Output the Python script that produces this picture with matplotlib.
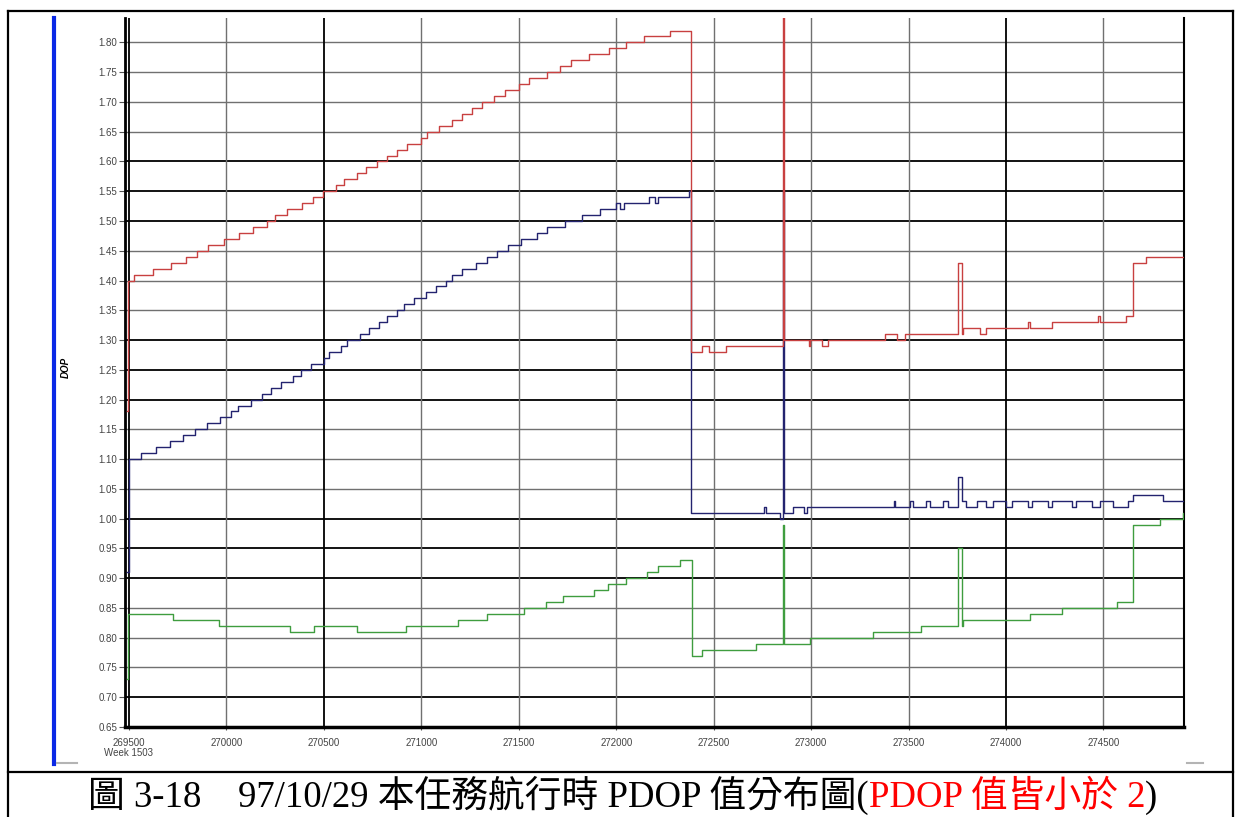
import matplotlib

matplotlib.use("Agg")
import matplotlib.pyplot as plt  # noqa: E402
from matplotlib.lines import Line2D  # noqa: E402
from matplotlib.offsetbox import AnchoredOffsetbox, HPacker, TextArea  # noqa: E402

# step change points: GPS time of week (s) -> DOP value (held until next point)
pdop_t = [269488, 269497, 269526, 269622, 269715, 269792, 269849, 269907, 269989,
          270065, 270139, 270211, 270248, 270313, 270390, 270445, 270496, 270561,
          270601, 270669, 270718, 270775, 270826, 270877, 270929, 270997, 271031,
          271091, 271159, 271210, 271258, 271309, 271372, 271432, 271500, 271555,
          271646, 271714, 271766, 271859, 271962, 272051, 272141, 272275, 272386,
          272441, 272474, 272565, 272856, 272862, 272990, 272995, 273056, 273089,
          273380, 273440, 273483, 273751, 273776, 273780, 273867, 273898, 274112,
          274125, 274235, 274473, 274482, 274615, 274653, 274718, 274913]
pdop_v = [1.18, 1.40, 1.41, 1.42, 1.43, 1.44, 1.45, 1.46, 1.47,
          1.48, 1.49, 1.50, 1.51, 1.52, 1.53, 1.54, 1.55, 1.56,
          1.57, 1.58, 1.59, 1.60, 1.61, 1.62, 1.63, 1.64, 1.65,
          1.66, 1.67, 1.68, 1.69, 1.70, 1.71, 1.72, 1.73, 1.74,
          1.75, 1.76, 1.77, 1.78, 1.79, 1.80, 1.81, 1.82, 1.28,
          1.29, 1.28, 1.29, 1.95, 1.30, 1.29, 1.30, 1.29, 1.30,
          1.31, 1.30, 1.31, 1.43, 1.31, 1.32, 1.31, 1.32, 1.33,
          1.32, 1.33, 1.34, 1.33, 1.34, 1.43, 1.44, 1.44]

hdop_t = [269488, 269500, 269562, 269638, 269710, 269780, 269840, 269903, 269968,
          270026, 270060, 270125, 270185, 270231, 270279, 270342, 270382, 270433,
          270501, 270527, 270587, 270621, 270686, 270732, 270783, 270826, 270877,
          270911, 270962, 271022, 271074, 271125, 271159, 271210, 271279, 271335,
          271390, 271446, 271513, 271595, 271646, 271735, 271826, 271916, 272001,
          272018, 272039, 272167, 272201, 272213, 272372, 272386, 272756, 272770,
          272838, 272856, 272862, 272907, 272961, 272979, 273426, 273431, 273505,
          273522, 273590, 273611, 273679, 273702, 273751, 273776, 273795, 273850,
          273898, 273935, 274000, 274031, 274113, 274134, 274216, 274236, 274337,
          274359, 274440, 274482, 274549, 274627, 274651, 274807, 274913]
hdop_v = [0.91, 1.10, 1.11, 1.12, 1.13, 1.14, 1.15, 1.16, 1.17,
          1.18, 1.19, 1.20, 1.21, 1.22, 1.23, 1.24, 1.25, 1.26,
          1.27, 1.28, 1.29, 1.30, 1.31, 1.32, 1.33, 1.34, 1.35,
          1.36, 1.37, 1.38, 1.39, 1.40, 1.41, 1.42, 1.43, 1.44,
          1.45, 1.46, 1.47, 1.48, 1.49, 1.50, 1.51, 1.52, 1.53,
          1.52, 1.53, 1.54, 1.53, 1.54, 1.55, 1.01, 1.02, 1.01,
          1.00, 1.55, 1.01, 1.02, 1.01, 1.02, 1.03, 1.02, 1.03,
          1.02, 1.03, 1.02, 1.03, 1.02, 1.07, 1.03, 1.02, 1.03,
          1.02, 1.03, 1.02, 1.03, 1.02, 1.03, 1.02, 1.03, 1.02,
          1.03, 1.02, 1.03, 1.02, 1.03, 1.04, 1.03, 1.03]

vdop_t = [269488, 269497, 269724, 269963, 270328, 270450, 270669, 270920, 271189,
          271338, 271528, 271642, 271729, 271888, 271960, 272048, 272156, 272215,
          272329, 272388, 272441, 272719, 272856, 272862, 272992, 273320, 273563,
          273751, 273776, 273781, 274123, 274286, 274571, 274653, 274790, 274906,
          274913]
vdop_v = [0.73, 0.84, 0.83, 0.82, 0.81, 0.82, 0.81, 0.82, 0.83,
          0.84, 0.85, 0.86, 0.87, 0.88, 0.89, 0.90, 0.91, 0.92,
          0.93, 0.77, 0.78, 0.79, 0.99, 0.79, 0.80, 0.81, 0.82,
          0.95, 0.82, 0.83, 0.84, 0.85, 0.86, 0.99, 1.00, 1.01,
          1.01]

x_ticks = [269500, 270000, 270500, 271000, 271500, 272000, 272500, 273000, 273500,
           274000, 274500]
y_ticks = [0.65, 0.70, 0.75, 0.80, 0.85, 0.90, 0.95, 1.00, 1.05, 1.10, 1.15, 1.20,
           1.25, 1.30, 1.35, 1.40, 1.45, 1.50, 1.55, 1.60, 1.65, 1.70, 1.75, 1.80]
dark_y = [0.70, 0.90, 0.95, 1.00, 1.20, 1.25, 1.30, 1.50, 1.55, 1.60]
dark_x = [269500, 270500, 274000]

caption_parts = [
    ("圖 3-18\u300097/10/29 本任務航行時 PDOP 值分布圖(", "black"),
    ("PDOP 值皆小於 2", "#ff0000"),
    (")", "black"),
]

W, H = 1236, 817


def fx(px):
    return px / W


def fy(py):
    return 1 - py / H


fig = plt.figure(figsize=(W / 100, H / 100), dpi=100)
ax = fig.add_axes([fx(125), fy(727), fx(1184) - fx(125), fy(18) - fy(727)])
ax.set_xlim(269480, 274913)
ax.set_ylim(0.65, 1.841)

# grid, drawn by hand so some lines can be darker like the original screenshot
for v in y_ticks:
    dark = any(abs(v - d) < 1e-6 for d in dark_y)
    ax.axhline(v, color="black" if dark else "#707070", lw=1.3 if dark else 1.0, zorder=1)
for t in x_ticks:
    dark = t in dark_x
    ax.axvline(t, color="black" if dark else "#707070", lw=1.3 if dark else 1.0, zorder=1)

ax.plot(vdop_t, vdop_v, drawstyle="steps-post", color="#3f9d3f", lw=1.0, zorder=3)
ax.plot(hdop_t, hdop_v, drawstyle="steps-post", color="#23236f", lw=1.0, zorder=3)
ax.plot(pdop_t, pdop_v, drawstyle="steps-post", color="#c84040", lw=1.0, zorder=4)

ax.set_xticks(x_ticks)
ax.set_xticklabels([str(t) for t in x_ticks])
ax.set_yticks(y_ticks)
ax.set_yticklabels([f"{v:.2f}" for v in y_ticks])
ax.tick_params(axis="y", length=4, width=0.8, color="#555555", pad=1.5,
               labelsize=7, labelcolor="#444444")
ax.tick_params(axis="x", length=2, width=0.8, color="#555555", pad=6,
               labelsize=7, labelcolor="#444444")
for lab in ax.get_xticklabels() + ax.get_yticklabels():
    lab.set_fontfamily("Liberation Sans")

ax.spines["top"].set_visible(False)
ax.spines["left"].set_linewidth(2.0)
ax.spines["bottom"].set_linewidth(2.5)
ax.spines["right"].set_linewidth(1.5)

fig.text(fx(104), fy(753), "Week 1503", ha="left", va="center", fontsize=7,
         color="#444444", family="Liberation Sans")
fig.text(fx(66), fy(367), "DOP", rotation=90, ha="center", va="center", fontsize=7,
         fontstyle="italic", fontweight="bold", family="Liberation Sans")

# blue bar on the left and small grey marks of the screenshot
fig.add_artist(Line2D([fx(53.8), fx(53.8)], [fy(18), fy(764)], color="#0a28e6", lw=3))
fig.add_artist(Line2D([fx(57), fx(77)], [fy(763), fy(763)], color="#b4b4b4", lw=1.5))
fig.add_artist(Line2D([fx(1187), fx(1203)], [fy(763), fy(763)], color="#b4b4b4", lw=1.5))

# outer frame and caption divider
frame_kw = dict(color="black", lw=1.6)
fig.add_artist(Line2D([fx(8), fx(1233)], [fy(11), fy(11)], **frame_kw))
fig.add_artist(Line2D([fx(8), fx(8)], [fy(11), fy(817)], **frame_kw))
fig.add_artist(Line2D([fx(1233), fx(1233)], [fy(11), fy(817)], **frame_kw))
fig.add_artist(Line2D([fx(8), fx(1233)], [fy(772), fy(772)], **frame_kw))

cap_font = ["Liberation Serif", "Noto Sans CJK TC"]
areas = [TextArea(s, textprops=dict(color=c, fontsize=26.5, family=cap_font))
         for s, c in caption_parts]
caption = HPacker(children=areas, align="baseline", pad=0, sep=0)
fig.add_artist(AnchoredOffsetbox(loc="center left", child=caption, pad=0, borderpad=0,
                                 frameon=False, bbox_to_anchor=(fx(88), fy(795)),
                                 bbox_transform=fig.transFigure))

fig.savefig("out.png", dpi=100)
